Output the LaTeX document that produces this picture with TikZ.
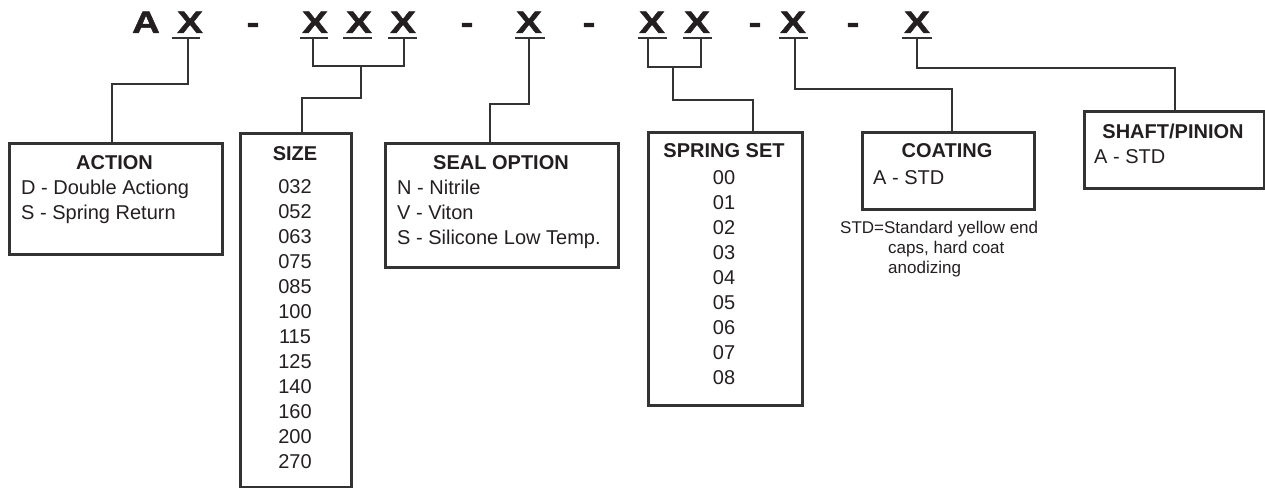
\documentclass[tikz,border=0pt]{standalone}
\usepackage{fontspec}
\setmainfont{Liberation Sans}
\newfontfamily\hdrfont[FakeStretch=1.25,FakeBold=1.5]{Liberation Sans}
\definecolor{ink}{HTML}{231F20}
\definecolor{linec}{HTML}{333333}
\begin{document}
\begin{tikzpicture}[x=1pt,y=-1pt,
  hdr/.style={anchor=base,inner sep=0pt,text=ink,font=\hdrfont\bfseries\fontsize{31}{33}\selectfont},
  ttl/.style={anchor=base,inner sep=0pt,text=ink,font=\bfseries\fontsize{20}{24}\selectfont},
  itm/.style={anchor=base west,inner sep=0pt,text=ink,font=\fontsize{20}{24}\selectfont},
  num/.style={anchor=base,inner sep=0pt,text=ink,font=\fontsize{20}{24}\selectfont},
  note/.style={anchor=base west,inner sep=0pt,text=ink,font=\fontsize{17}{20}\selectfont},
  ul/.style={draw=linec,line width=2pt},
  conn/.style={draw=linec,line width=2.2pt},
  boxs/.style={draw=linec,line width=2.5pt}]
\useasboundingbox (0,0) rectangle (1265,487);
% header
\node[hdr] (hA) at (146,33) {A};
\node[hdr] (h1) at (190,33) {X};
\node[hdr] (d1) at (253,33) {-};
\node[hdr] (h2) at (315,33) {X};
\node[hdr] (h3) at (359,33) {X};
\node[hdr] (h4) at (403,33) {X};
\node[hdr] (d2) at (467,33) {-};
\node[hdr] (h5) at (529,33) {X};
\node[hdr] (d3) at (589,33) {-};
\node[hdr] (h6) at (652,33) {X};
\node[hdr] (h7) at (697,33) {X};
\node[hdr] (d4) at (755,33) {-};
\node[hdr] (h8) at (793,33) {X};
\node[hdr] (d5) at (853,33) {-};
\node[hdr] (h9) at (917,33) {X};
% underlines
\draw[ul] (172,38) -- (200,38);
\draw[ul] (300,38) -- (328,38);
\draw[ul] (343,38) -- (372,38);
\draw[ul] (388,38) -- (417,38);
\draw[ul] (515,38) -- (545,38);
\draw[ul] (638,38) -- (667,38);
\draw[ul] (683,38) -- (712,38);
\draw[ul] (779,38) -- (808,38);
\draw[ul] (902,38) -- (932,38);
\coordinate (s1) at (188,38);
\coordinate (s2) at (313,38);
\coordinate (s4) at (404,38);
\coordinate (s5) at (529,38);
\coordinate (s6) at (648,38);
\coordinate (s7) at (701,38);
\coordinate (s8) at (795,38);
\coordinate (s9) at (917,38);
\coordinate (j2) at (361,66);
\coordinate (j6) at (673,67);
% boxes
\node[boxs,anchor=north west,inner sep=0pt,minimum width=213pt,minimum height=111pt] (action) at (8,142) {};
\node[boxs,anchor=north west,inner sep=0pt,minimum width=111pt,minimum height=354pt] (size) at (239,132) {};
\node[boxs,anchor=north west,inner sep=0pt,minimum width=233pt,minimum height=124pt] (seal) at (384,142) {};
\node[boxs,anchor=north west,inner sep=0pt,minimum width=154pt,minimum height=273pt] (spring) at (647,131) {};
\node[boxs,anchor=north west,inner sep=0pt,minimum width=172pt,minimum height=77pt] (coating) at (861,131) {};
\node[boxs,anchor=north west,inner sep=0pt,minimum width=180pt,minimum height=77pt] (shaft) at (1083,110) {};
% connectors
\draw[conn] (s1) |- (112,84) -- (112,0 |- action.north);
\draw[conn] (s2) |- (j2) -| (s4);
\draw[conn] (j2) |- (302,98) -- (302,0 |- size.north);
\draw[conn] (s5) |- (490,104) -- (490,0 |- seal.north);
\draw[conn] (s6) |- (j6) -| (s7);
\draw[conn] (j6) |- (753,100) -- (753,0 |- spring.north);
\draw[conn] (s8) |- (952,89) -- (952,0 |- coating.north);
\draw[conn] (s9) |- (1175,68) -- (1175,0 |- shaft.north);
% texts
\node[ttl] (tA) at (114.5,169) {ACTION};
\node[itm] (a1) at (21,194) {D - Double Actiong};
\node[itm] (a2) at (21,219) {S - Spring Return};
\node[ttl] (tS) at (295,160) {SIZE};
\foreach \v [count=\k from 0] in {032,052,063,075,085,100,115,125,140,160,200,270}
  \node[num] (sz\k) at (295,193+25*\k) {\v};
\node[ttl] (tSe) at (501,169) {SEAL OPTION};
\node[itm] (e1) at (397,194) {N - Nitrile};
\node[itm] (e2) at (397,219) {V - Viton};
\node[itm] (e3) at (397,244) {S - Silicone Low Temp.};
\node[ttl] (tSp) at (724,157) {SPRING SET};
\foreach \v [count=\k from 0] in {00,01,02,03,04,05,06,07,08}
  \node[num] (sp\k) at (724,184+25*\k) {\v};
\node[ttl] (tC) at (947,157) {COATING};
\node[itm] (c1) at (873,184) {A - STD};
\node[ttl] (tSh) at (1173,138) {SHAFT/PINION};
\node[itm] (p1) at (1094,163) {A - STD};
\node[note] (n1) at (840,233) {STD=Standard yellow end};
\node[note] (n2) at (888,253) {caps, hard coat};
\node[note] (n3) at (888,273) {anodizing};
\end{tikzpicture}
\end{document}
